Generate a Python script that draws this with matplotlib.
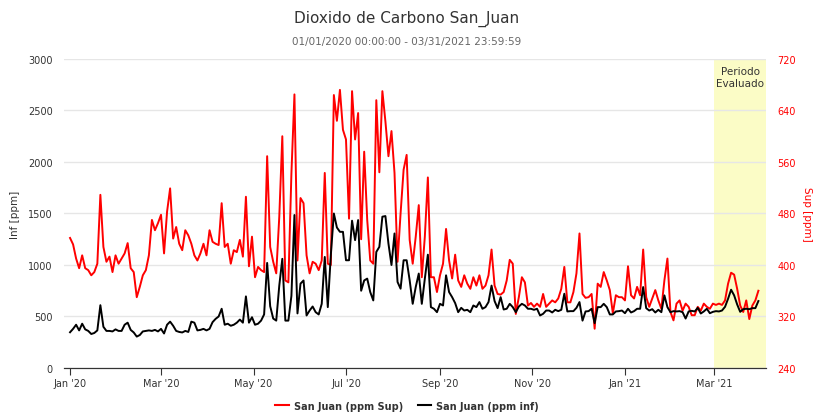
import numpy as np
import pandas as pd
import matplotlib
matplotlib.use("Agg")
import matplotlib.pyplot as plt
import matplotlib.dates as mdates
from matplotlib.lines import Line2D

# ─────────────────────────────────────────────
# Datos (lecturas cada 2 dias desde 01/01/2020)
# ─────────────────────────────────────────────
START_DATE = "2020-01-01"

# San Juan (ppm Sup) -> eje derecho
sup_ppm = [
    442, 432, 410, 395, 415, 395, 392, 384, 389, 402, 509, 428, 405, 413, 389, 415, 402, 410, 418, 434,
    395, 389, 350, 366, 384, 392, 415, 470, 454, 465, 478, 418, 483, 519, 441, 459, 433, 423,
    454, 446, 433, 415, 407, 418, 433, 415, 454, 436, 433, 431, 496, 428, 433, 402, 423, 420, 439, 413,
    506, 398, 444, 381, 397, 392, 389, 569, 428, 405, 387, 475, 600, 376, 373, 542, 665, 407, 504,
    496, 415, 387, 405, 402, 392, 407, 543, 402, 400, 664, 624, 672, 610, 595, 472, 670, 595, 636, 440,
    576, 470, 407, 402, 656, 544, 670, 623, 569, 608, 543, 405, 480, 548, 571, 439, 402, 444, 493,
    381, 444, 536, 381, 381, 358, 384, 402, 456, 407, 379, 416, 376, 366, 384, 371, 363, 381, 368, 384,
    363, 368, 384, 424, 368, 355, 354, 358, 376, 408, 402, 324, 350, 381, 373, 337, 341, 335, 340,
    335, 355, 335, 340, 345, 342, 348, 363, 397, 342, 342, 358, 387, 449, 355, 349, 350, 355, 301, 371,
    366, 389, 376, 361, 325, 353, 350, 350, 345, 398, 353, 348, 366, 353, 424, 350, 335, 348, 361,
    345, 332, 376, 410, 327, 314, 340, 345, 329, 340, 335, 322, 322, 335, 329, 340, 335, 332, 340, 338,
    340, 338, 345, 371, 388, 385, 363, 337, 327, 345, 316, 337, 345, 360,
]

# San Juan (ppm inf) -> eje izquierdo
inf_ppm = [
    347, 380, 420, 365, 430, 375, 360, 330, 340, 365, 610, 400, 360, 360, 355, 375, 360, 360, 420, 440,
    370, 345, 305, 320, 355, 360, 365, 360, 370, 355, 380, 335, 420, 450, 410, 360, 350, 345,
    360, 350, 450, 440, 365, 370, 380, 365, 380, 445, 477, 500, 575, 420, 430, 410, 420, 440, 470, 440,
    695, 440, 493, 420, 430, 460, 520, 1020, 600, 480, 460, 800, 1060, 460, 460, 700, 1485, 530, 819,
    850, 510, 558, 597, 542, 520, 623, 1078, 591, 1100, 1500, 1364, 1322, 1322, 1046, 1046, 1430, 1241, 1436, 750,
    850, 868, 737, 656, 1127, 1176, 1469, 1475, 1208, 1000, 1306, 835, 770, 1046, 1046, 851, 623, 786, 917,
    623, 867, 1100, 591, 575, 542, 623, 607, 900, 737, 688, 630, 542, 584, 558, 565, 542, 607, 591, 640,
    575, 591, 640, 800, 650, 581, 688, 568, 575, 623, 591, 542, 597, 623, 607, 575, 575, 565, 575,
    510, 526, 558, 558, 539, 565, 552, 565, 721, 549, 552, 552, 584, 640, 460, 549, 552, 575, 435, 591,
    591, 623, 591, 520, 520, 549, 552, 558, 532, 575, 539, 552, 575, 575, 786, 581, 558, 571, 539,
    565, 542, 705, 591, 542, 552, 549, 552, 542, 480, 549, 555, 549, 584, 529, 549, 575, 532, 545, 552,
    549, 558, 594, 672, 760, 705, 617, 545, 571, 575, 571, 581, 581, 650,
]

PERIOD_START = "2021-03-01"
PERIOD_END   = "2021-04-04"
X_MIN, X_MAX = "2019-12-28", "2021-04-04"

TITLE    = "Dioxido de Carbono San_Juan"
SUBTITLE = "01/01/2020 00:00:00 - 03/31/2021 23:59:59"

dates = pd.date_range(START_DATE, periods=len(sup_ppm), freq="2D")

# ─────────────────────────────────────────────
# Figura
# ─────────────────────────────────────────────
plt.rcParams["font.family"] = ["DejaVu Sans"]

fig = plt.figure(figsize=(8.14, 4.14), dpi=100)
ax = fig.add_axes([0.0786, 0.1087, 0.8624, 0.7464])
ax2 = ax.twinx()

ax.set_ylim(0, 3000)
ax.set_yticks(np.arange(0, 3001, 500))
ax2.set_ylim(240, 720)
ax2.set_yticks(np.arange(240, 721, 80))

# ax2 queda detras: fondo, grilla y periodo evaluado van ahi
ax.set_zorder(ax2.get_zorder() + 1)
ax.patch.set_visible(False)
ax2.patch.set_visible(True)
ax2.patch.set_facecolor("white")

ax2.axvspan(pd.Timestamp(PERIOD_START), pd.Timestamp(PERIOD_END),
            color="#fbfcc6", zorder=0, lw=0)
for v in np.arange(240, 721, 80):
    ax2.axhline(v, color="#e6e6e6", lw=1, zorder=1)

ax2.plot(dates, sup_ppm, color="#ff0000", lw=1.4, zorder=3)
ax.plot(dates, inf_ppm, color="#000000", lw=1.4, zorder=4)

ax.text(pd.Timestamp("2021-03-18"), 2930, "Periodo\nEvaluado", ha="center", va="top",
        fontsize=7.5, color="#333333", linespacing=1.2)

ax.set_xlim(pd.Timestamp(X_MIN), pd.Timestamp(X_MAX))
ax.xaxis.set_major_locator(mdates.MonthLocator(bymonth=[1, 3, 5, 7, 9, 11]))
ax.xaxis.set_major_formatter(mdates.DateFormatter("%b '%y"))

for a in (ax, ax2):
    for s in ("top", "left", "right"):
        a.spines[s].set_visible(False)
    a.spines["bottom"].set_color("#333333")

ax.tick_params(axis="x", length=5, color="#333333", labelsize=7, labelcolor="#333333", pad=2)
ax.tick_params(axis="y", length=0, labelsize=7, labelcolor="#333333", pad=8)
ax2.tick_params(axis="y", length=0, labelsize=7, labelcolor="#ff0000", pad=8)

ax.set_ylabel("Inf [ppm]", fontsize=7.5, color="#333333", labelpad=6)
ax2.set_ylabel("Sup [ppm]", fontsize=7.5, color="#ff0000", rotation=270, labelpad=12)

fig.text(0.5, 0.955, TITLE, ha="center", va="center", fontsize=11, color="#333333")
fig.text(0.5, 0.898, SUBTITLE, ha="center", va="center", fontsize=7.5, color="#666666")

handles = [
    Line2D([], [], color="#ff0000", lw=1.5),
    Line2D([], [], color="#000000", lw=1.5),
]
fig.legend(handles, ["San Juan (ppm Sup)", "San Juan (ppm inf)"],
           loc="center", bbox_to_anchor=(0.5, 0.018), ncol=2, frameon=False,
           prop={"size": 7, "weight": "bold"}, handlelength=1.4, columnspacing=1.5,
           handletextpad=0.5, labelcolor="#333333")

fig.savefig("out.png", dpi=100)
